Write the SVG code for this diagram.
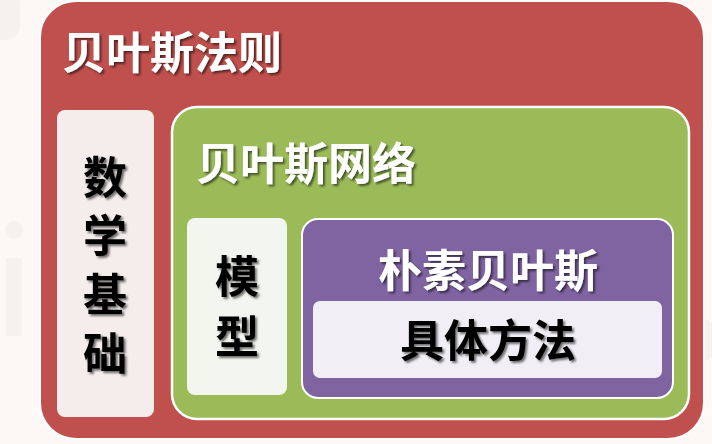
<svg xmlns="http://www.w3.org/2000/svg" width="712" height="444" viewBox="0 0 712 444">
<defs>
<filter id="sh" x="-20%" y="-20%" width="140%" height="140%">
<feDropShadow dx="2" dy="2" stdDeviation="1" flood-color="#000" flood-opacity="0.55"/>
</filter>
</defs>
<style>
.t{font-family:"Noto Sans CJK SC","Noto Sans",sans-serif;font-weight:bold;font-size:44px;text-anchor:middle;filter:url(#sh)}
.w{fill:#ffffff}
.k{fill:#000000}
</style>
<rect x="0" y="0" width="712" height="444" fill="#fcf8f5"/>
<g fill="#f7f1ed">
<rect x="-20" y="-10" width="40" height="50" rx="14"/>
<circle cx="14" cy="230" r="9"/>
<rect x="6" y="258" width="16" height="78"/>
<rect x="700" y="320" width="12" height="40" rx="5"/>
</g>
<g id="bayes-rule">
<rect x="40" y="1" width="664" height="438" rx="36" fill="#c0504d" stroke="#ffffff" stroke-width="2"/>
<text class="t w" x="172" y="69">贝叶斯法则</text>
</g>
<g id="math-basis">
<rect x="57" y="110" width="97" height="307" rx="8" fill="#f5ecec"/>
<text class="t k" x="105" y="194">数</text>
<text class="t k" x="105" y="252">学</text>
<text class="t k" x="105" y="311">基</text>
<text class="t k" x="105" y="370">础</text>
</g>
<g id="bayes-network">
<rect x="172" y="107" width="517" height="312" rx="25" fill="#9bbb59" stroke="#ffffff" stroke-width="2.5"/>
<text class="t w" x="306" y="180">贝叶斯网络</text>
</g>
<g id="model">
<rect x="187" y="218" width="100" height="177" rx="8" fill="#f3f6ee"/>
<text class="t k" x="237" y="293">模</text>
<text class="t k" x="237" y="353">型</text>
</g>
<g id="naive-bayes">
<rect x="302" y="219" width="371" height="179" rx="16" fill="#8064a2" stroke="#ffffff" stroke-width="2"/>
<text class="t w" x="488" y="287">朴素贝叶斯</text>
</g>
<g id="method">
<rect x="313" y="301" width="349" height="77" rx="7" fill="#f1eff5"/>
<text class="t k" x="488" y="357">具体方法</text>
</g>
<g id="connectors"></g>
</svg>
